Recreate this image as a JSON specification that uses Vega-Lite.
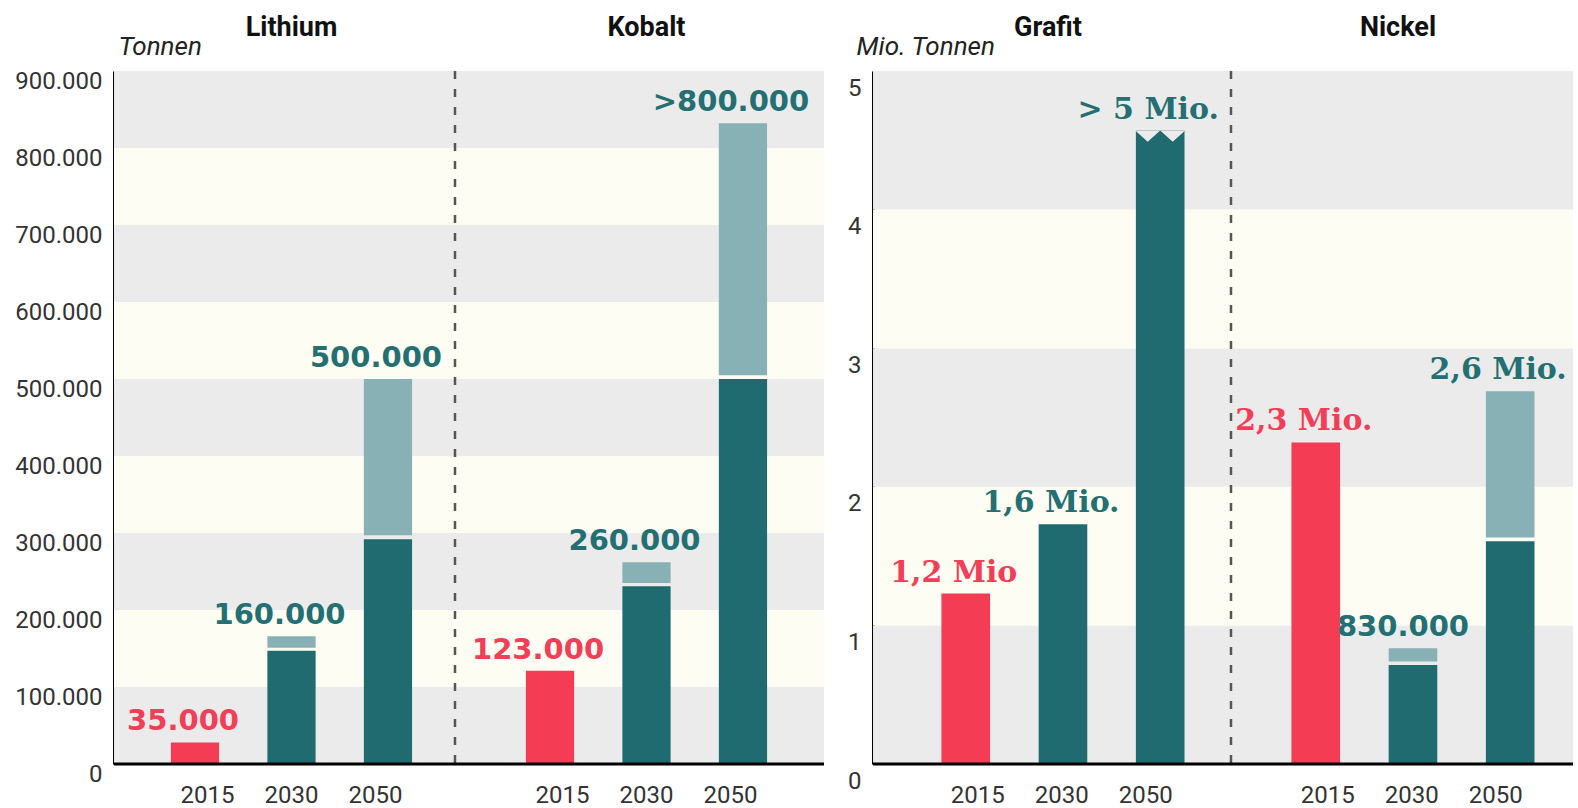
{
  "$schema": "https://vega.github.io/schema/vega-lite/v6.json",
  "background": "white",
  "padding": {"left": 14, "top": 13, "right": 0, "bottom": 0},
  "spacing": 21,
  "config": {
    "view": {"stroke": null},
    "locale": {"number": {"decimal": ",", "thousands": ".", "grouping": [3], "currency": ["", " €"]}}
  },
  "datasets": {
    "bars": [
      {"panel": "L", "material": "Lithium", "year": "2015", "seg": "red", "lo": 0, "hi": 28000},
      {"panel": "L", "material": "Lithium", "year": "2030", "seg": "dark", "lo": 0, "hi": 147000},
      {"panel": "L", "material": "Lithium", "year": "2030", "seg": "light", "lo": 151000, "hi": 166000},
      {"panel": "L", "material": "Lithium", "year": "2050", "seg": "dark", "lo": 0, "hi": 292000},
      {"panel": "L", "material": "Lithium", "year": "2050", "seg": "light", "lo": 297000, "hi": 500000},
      {"panel": "L", "material": "Kobalt", "year": "2015", "seg": "red", "lo": 0, "hi": 121000},
      {"panel": "L", "material": "Kobalt", "year": "2030", "seg": "dark", "lo": 0, "hi": 231000},
      {"panel": "L", "material": "Kobalt", "year": "2030", "seg": "light", "lo": 235000, "hi": 262000},
      {"panel": "L", "material": "Kobalt", "year": "2050", "seg": "dark", "lo": 0, "hi": 500000},
      {"panel": "L", "material": "Kobalt", "year": "2050", "seg": "light", "lo": 505000, "hi": 832000},
      {"panel": "R", "material": "Grafit", "year": "2015", "seg": "red", "lo": 0, "hi": 1.23},
      {"panel": "R", "material": "Grafit", "year": "2030", "seg": "dark", "lo": 0, "hi": 1.73},
      {"panel": "R", "material": "Grafit", "year": "2050", "seg": "dark", "lo": 0, "hi": 4.57},
      {"panel": "R", "material": "Nickel", "year": "2015", "seg": "red", "lo": 0, "hi": 2.32},
      {"panel": "R", "material": "Nickel", "year": "2030", "seg": "dark", "lo": 0, "hi": 0.715},
      {"panel": "R", "material": "Nickel", "year": "2030", "seg": "light", "lo": 0.74, "hi": 0.836},
      {"panel": "R", "material": "Nickel", "year": "2050", "seg": "dark", "lo": 0, "hi": 1.608},
      {"panel": "R", "material": "Nickel", "year": "2050", "seg": "light", "lo": 1.635, "hi": 2.69}
    ],
    "labels": [
      {"panel": "L", "material": "Lithium", "year": "2015", "label": "35.000", "top": 28000},
      {"panel": "L", "material": "Lithium", "year": "2030", "label": "160.000", "top": 166000},
      {"panel": "L", "material": "Lithium", "year": "2050", "label": "500.000", "top": 500000},
      {"panel": "L", "material": "Kobalt", "year": "2015", "label": "123.000", "top": 121000},
      {"panel": "L", "material": "Kobalt", "year": "2030", "label": "260.000", "top": 262000},
      {"panel": "L", "material": "Kobalt", "year": "2050", "label": ">800.000", "top": 832000},
      {"panel": "R", "material": "Grafit", "year": "2015", "label": "1,2 Mio", "top": 1.23},
      {"panel": "R", "material": "Grafit", "year": "2030", "label": "1,6 Mio.", "top": 1.73},
      {"panel": "R", "material": "Grafit", "year": "2050", "label": "> 5 Mio.", "top": 4.57},
      {"panel": "R", "material": "Nickel", "year": "2015", "label": "2,3 Mio.", "top": 2.32},
      {"panel": "R", "material": "Nickel", "year": "2030", "label": "830.000", "top": 0.836},
      {"panel": "R", "material": "Nickel", "year": "2050", "label": "2,6 Mio.", "top": 2.69}
    ],
    "stripes": [
      {"panel": "L", "band": 0, "lo": 0, "hi": 100000},
      {"panel": "L", "band": 1, "lo": 100000, "hi": 200000},
      {"panel": "L", "band": 2, "lo": 200000, "hi": 300000},
      {"panel": "L", "band": 3, "lo": 300000, "hi": 400000},
      {"panel": "L", "band": 4, "lo": 400000, "hi": 500000},
      {"panel": "L", "band": 5, "lo": 500000, "hi": 600000},
      {"panel": "L", "band": 6, "lo": 600000, "hi": 700000},
      {"panel": "L", "band": 7, "lo": 700000, "hi": 800000},
      {"panel": "L", "band": 8, "lo": 800000, "hi": 900000},
      {"panel": "R", "band": 0, "lo": 0, "hi": 1},
      {"panel": "R", "band": 1, "lo": 1, "hi": 2},
      {"panel": "R", "band": 2, "lo": 2, "hi": 3},
      {"panel": "R", "band": 3, "lo": 3, "hi": 4},
      {"panel": "R", "band": 4, "lo": 4, "hi": 5}
    ]
  },
  "hconcat": [
    {
      "width": 710,
      "height": 693,
      "resolve": {"scale": {"xOffset": "independent"}},
      "encoding": {
        "y": {"type": "quantitative", "scale": {"domain": [0, 900000], "nice": false},
          "axis": {"title": "Tonnen", "values": [0, 100000, 200000, 300000, 400000, 500000, 600000, 700000, 800000, 900000],
            "format": ",d", "domainColor": "#000", "domainWidth": 3, "ticks": false, "grid": false,
            "labelFont": "Roboto", "labelFontSize": 24, "labelColor": "#333", "labelPadding": 12, "labelOffset": 10,
            "titleAngle": 0, "titleAlign": "left", "titleBaseline": "alphabetic", "titleX": 4, "titleY": -17,
            "titleFont": "Roboto", "titleFontStyle": "italic", "titleFontWeight": "normal", "titleFontSize": 26, "titleColor": "#222"}}
      },
      "layer": [
        {
          "data": {"name": "stripes"},
          "transform": [{"filter": "datum.panel === 'L'"}],
          "mark": {"type": "rect"},
          "encoding": {
            "y": {"field": "lo", "type": "quantitative"},
            "y2": {"field": "hi"},
            "fill": {"condition": {"test": "datum.band % 2 === 0", "value": "#ebebeb"}, "value": "#fdfdf3"}
          }
        },
        {
          "data": {"values": [{"material": "Kobalt"}]},
          "mark": {"type": "rule", "strokeDash": [8, 10], "strokeWidth": 2.5, "color": "#555", "xOffset": -14},
          "encoding": {
            "x": {"field": "material", "type": "nominal", "bandPosition": 0,
              "scale": {"type": "band", "domain": ["Lithium", "Kobalt"], "paddingInner": 0, "paddingOuter": 0},
              "axis": {"orient": "top", "title": null, "domain": false, "ticks": false, "grid": false,
                "labelFont": "Roboto", "labelFontSize": 27, "labelFontWeight": "bold", "labelColor": "#111",
                "labelPadding": 36, "labelBaseline": "alphabetic", "labelAngle": 0}}
          }
        },
        {
          "data": {"name": "bars"},
          "transform": [{"filter": "datum.panel === 'L'"}],
          "mark": {"type": "bar"},
          "encoding": {
            "x": {"field": "material", "type": "nominal"},
            "xOffset": {"field": "year", "type": "nominal",
              "scale": {"type": "band", "domain": ["2015", "2030", "2050"], "paddingInner": 0.5, "paddingOuter": 0.59}},
            "y": {"field": "lo", "type": "quantitative"},
            "y2": {"field": "hi"},
            "color": {"field": "seg", "type": "nominal", "legend": null,
              "scale": {"domain": ["red", "dark", "light"], "range": ["#f43c55", "#1f6b70", "#88b1b5"]}}
          }
        },
        {
          "data": {"values": [{"base": 0}]},
          "mark": {"type": "rule", "strokeWidth": 3, "color": "#000"},
          "encoding": {"y": {"field": "base", "type": "quantitative"}}
        },
        {
          "data": {"name": "labels"},
          "transform": [{"filter": "datum.panel === 'L'"}],
          "mark": {"type": "text", "font": "DejaVu Sans", "fontWeight": "bold", "fontSize": 29, "baseline": "alphabetic", "dy": -12, "dx": -12},
          "encoding": {
            "x": {"field": "material", "type": "nominal"},
            "xOffset": {"field": "year", "type": "nominal",
              "scale": {"type": "band", "domain": ["2015", "2030", "2050"], "paddingInner": 0.5, "paddingOuter": 0.59}},
            "y": {"field": "top", "type": "quantitative"},
            "text": {"field": "label"},
            "color": {"condition": {"test": "datum.year === '2015'", "value": "#f23e57"}, "value": "#246f72"}
          }
        },
        {
          "data": {"name": "labels"},
          "transform": [{"filter": "datum.panel === 'L'"}],
          "mark": {"type": "text", "font": "Roboto", "fontSize": 24, "baseline": "alphabetic", "dy": 39, "color": "#333"},
          "encoding": {
            "x": {"field": "material", "type": "nominal"},
            "xOffset": {"field": "year", "type": "nominal",
              "scale": {"type": "band", "domain": ["2015", "2030", "2050"], "paddingInner": 0, "paddingOuter": 0.613}},
            "y": {"datum": 0, "type": "quantitative"},
            "text": {"field": "year"}
          }
        }
      ]
    },
    {
      "width": 700,
      "height": 693,
      "resolve": {"scale": {"xOffset": "independent"}},
      "encoding": {
        "y": {"type": "quantitative", "scale": {"domain": [0, 5], "nice": false},
          "axis": {"title": "Mio. Tonnen", "values": [0, 1, 2, 3, 4, 5],
            "format": "d", "domainColor": "#000", "domainWidth": 3, "ticks": false, "grid": false,
            "labelFont": "Roboto", "labelFontSize": 24, "labelColor": "#333", "labelPadding": 12, "labelOffset": 17,
            "titleAngle": 0, "titleAlign": "left", "titleBaseline": "alphabetic", "titleX": -17, "titleY": -17,
            "titleFont": "Roboto", "titleFontStyle": "italic", "titleFontWeight": "normal", "titleFontSize": 26, "titleColor": "#222"}}
      },
      "layer": [
        {
          "data": {"name": "stripes"},
          "transform": [{"filter": "datum.panel === 'R'"}],
          "mark": {"type": "rect"},
          "encoding": {
            "y": {"field": "lo", "type": "quantitative"},
            "y2": {"field": "hi"},
            "fill": {"condition": {"test": "datum.band % 2 === 0", "value": "#ebebeb"}, "value": "#fdfdf3"}
          }
        },
        {
          "data": {"values": [{"material": "Nickel"}]},
          "mark": {"type": "rule", "strokeDash": [8, 10], "strokeWidth": 2.5, "color": "#555", "xOffset": 8},
          "encoding": {
            "x": {"field": "material", "type": "nominal", "bandPosition": 0,
              "scale": {"type": "band", "domain": ["Grafit", "Nickel"], "paddingInner": 0, "paddingOuter": 0},
              "axis": {"orient": "top", "title": null, "domain": false, "ticks": false, "grid": false,
                "labelFont": "Roboto", "labelFontSize": 27, "labelFontWeight": "bold", "labelColor": "#111",
                "labelPadding": 36, "labelBaseline": "alphabetic", "labelAngle": 0}}
          }
        },
        {
          "data": {"name": "bars"},
          "transform": [{"filter": "datum.panel === 'R'"}],
          "mark": {"type": "bar"},
          "encoding": {
            "x": {"field": "material", "type": "nominal"},
            "xOffset": {"field": "year", "type": "nominal",
              "scale": {"type": "band", "domain": ["2015", "2030", "2050"], "paddingInner": 0.5, "paddingOuter": 0.55, "align": 0.64}},
            "y": {"field": "lo", "type": "quantitative"},
            "y2": {"field": "hi"},
            "color": {"field": "seg", "type": "nominal", "legend": null,
              "scale": {"domain": ["red", "dark", "light"], "range": ["#f43c55", "#1f6b70", "#88b1b5"]}}
          }
        },
        {
          "data": {"name": "bars"},
          "transform": [{"filter": "datum.material === 'Grafit' && datum.year === '2050'"}],
          "mark": {"type": "point", "shape": "M-1,0L-0.5,0.45L0,0L0.5,0.45L1,0Z", "filled": true, "fill": "#ebebeb", "opacity": 1, "size": 2500, "strokeWidth": 0},
          "encoding": {
            "x": {"field": "material", "type": "nominal"},
            "xOffset": {"field": "year", "type": "nominal",
              "scale": {"type": "band", "domain": ["2015", "2030", "2050"], "paddingInner": 0.5, "paddingOuter": 0.55, "align": 0.64}},
            "y": {"field": "hi", "type": "quantitative"}
          }
        },
        {
          "data": {"values": [{"base": 0}]},
          "mark": {"type": "rule", "strokeWidth": 3, "color": "#000"},
          "encoding": {"y": {"field": "base", "type": "quantitative"}}
        },
        {
          "data": {"name": "labels"},
          "transform": [{"filter": "datum.panel === 'R' && indexof(datum.label, 'Mio') < 0"}],
          "mark": {"type": "text", "font": "DejaVu Sans", "fontWeight": "bold", "fontSize": 29, "baseline": "alphabetic", "dy": -12, "dx": -10},
          "encoding": {
            "x": {"field": "material", "type": "nominal"},
            "xOffset": {"field": "year", "type": "nominal",
              "scale": {"type": "band", "domain": ["2015", "2030", "2050"], "paddingInner": 0.5, "paddingOuter": 0.55, "align": 0.64}},
            "y": {"field": "top", "type": "quantitative"},
            "text": {"field": "label"},
            "color": {"condition": {"test": "datum.year === '2015'", "value": "#f23e57"}, "value": "#246f72"}
          }
        },
        {
          "data": {"name": "labels"},
          "transform": [{"filter": "datum.panel === 'R' && indexof(datum.label, 'Mio') >= 0"}],
          "mark": {"type": "text", "font": "DejaVu Serif", "fontWeight": "bold", "fontSize": 30, "baseline": "alphabetic", "dy": -12, "dx": -12},
          "encoding": {
            "x": {"field": "material", "type": "nominal"},
            "xOffset": {"field": "year", "type": "nominal",
              "scale": {"type": "band", "domain": ["2015", "2030", "2050"], "paddingInner": 0.5, "paddingOuter": 0.55, "align": 0.64}},
            "y": {"field": "top", "type": "quantitative"},
            "text": {"field": "label"},
            "color": {"condition": {"test": "datum.year === '2015'", "value": "#f23e57"}, "value": "#246f72"}
          }
        },
        {
          "data": {"name": "labels"},
          "transform": [{"filter": "datum.panel === 'R'"}],
          "mark": {"type": "text", "font": "Roboto", "fontSize": 24, "baseline": "alphabetic", "dy": 39, "color": "#333"},
          "encoding": {
            "x": {"field": "material", "type": "nominal"},
            "xOffset": {"field": "year", "type": "nominal",
              "scale": {"type": "band", "domain": ["2015", "2030", "2050"], "paddingInner": 0, "paddingOuter": 0.583, "align": 0.64}},
            "y": {"datum": 0, "type": "quantitative"},
            "text": {"field": "year"}
          }
        }
      ]
    }
  ]
}
